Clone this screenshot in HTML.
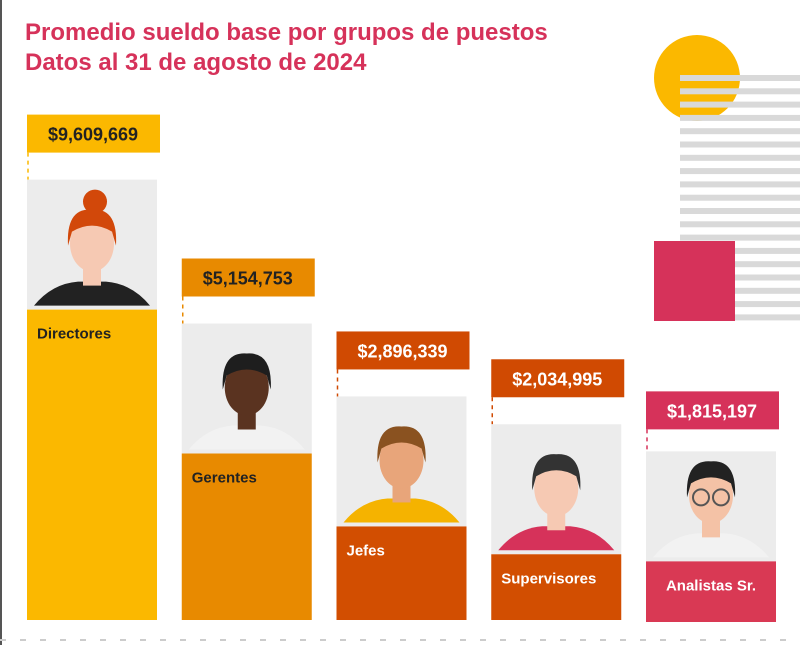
<!DOCTYPE html>
<html><head><meta charset="utf-8"><style>
body{margin:0;width:800px;height:645px;overflow:hidden;background:#fff;font-family:"Liberation Sans",sans-serif;position:relative}
#title{position:absolute;left:25px;top:18px;color:#d6325a;font-weight:bold;font-size:24px;line-height:30px}
</style></head><body>
<div style="position:absolute;left:0;top:0;width:2px;height:645px;background:#555"></div>
<div id="title">Promedio sueldo base por grupos de puestos<br>Datos al 31 de agosto de 2024</div>
<svg id="chart" width="800" height="645" style="position:absolute;left:0;top:0" xmlns="http://www.w3.org/2000/svg"></svg>
<script>
const categories=["Directores","Gerentes","Jefes","Supervisores","Analistas Sr."];
const values=[9609669,5154753,2896339,2034995,1815197];
const valueLabels=["$9,609,669","$5,154,753","$2,896,339","$2,034,995","$1,815,197"];
const barColors=["#fbb800","#e88a00","#d24e01","#d24e01","#d93954"];
const labelColors=["#fbb800","#e88a00","#d04a02","#d04a02","#d6325a"];
const hair=["#d2480a","#1e1e1e","#8a5220","#333","#222"];
const skin=["#f6c9b3","#5a3320","#e8a57a","#f6c9b3","#f4c2a6"];
const shirt=["#222","#f2f2f2","#f5b300","#d6325a","#f2f2f2"];
const NS="http://www.w3.org/2000/svg";
const svg=document.getElementById('chart');
const baseY=620, pxPerUnit=32.3/1e6;
const y=v=>baseY-v*pxPerUnit;
const x=i=>27+i*154.75;
function el(t,a,p){const e=document.createElementNS(NS,t);for(const k in a)e.setAttribute(k,a[k]);(p||svg).appendChild(e);return e;}
const deco=el('g',{});


el('circle',{cx:697,cy:78,r:43,fill:'#fbb800'},deco);
for(let s=0;s<19;s++){el('rect',{x:680,y:75+s*13.3,width:120,height:6,fill:'#d9d9d9'},deco);}
el('rect',{x:654,y:241,width:81,height:80,fill:'#d6325a'},deco);
el('line',{x1:0,y1:640,x2:800,y2:640,stroke:'#ccc','stroke-width':2,'stroke-dasharray':'6 14'},deco);
categories.forEach((c,i)=>{
  const g=el('g',{});
  
  
  const bx=x(i),w=130,top=y(values[i]),photoH=i==4?110:130,photoTop=top-photoH;
  const labTop=photoTop-(i==4?60:65);
  el('line',{x1:bx+1,y1:labTop+38,x2:bx+1,y2:photoTop,stroke:labelColors[i],'stroke-width':1.5,'stroke-dasharray':'4 4'},g);
  const lb=el('rect',{x:bx,y:labTop,width:w+3,height:38,fill:labelColors[i]},g);
  
  
  const t=el('text',{x:bx+66,y:labTop+26,'text-anchor':'middle','font-size':18,'font-weight':'bold',fill:i<2?'#222':'#fff'},g);
  t.textContent=valueLabels[i];
  
  
  el('rect',{x:bx,y:photoTop,width:w,height:photoH,fill:'#ececec'},g);
  const cx=bx+w/2,by=top-4;
  el('path',{d:`M${cx-58} ${by} Q${cx-40} ${by-22} ${cx-14} ${by-24} L${cx+14} ${by-24} Q${cx+40} ${by-22} ${cx+58} ${by} Z`,fill:shirt[i]},g);
  el('rect',{x:cx-9,y:by-42,width:18,height:22,fill:skin[i]},g);
  el('ellipse',{cx:cx,cy:by-62,rx:22,ry:28,fill:skin[i]},g);
  el('path',{d:`M${cx-24} ${by-60} Q${cx-26} ${by-98} ${cx} ${by-96} Q${cx+26} ${by-98} ${cx+24} ${by-60} L${cx+20} ${by-74} Q${cx} ${by-86} ${cx-20} ${by-74} Z`,fill:hair[i]},g);
  if(i==0) el('circle',{cx:cx+3,cy:by-104,r:12,fill:hair[i]},g);
  if(i==4){el('circle',{cx:cx-10,cy:by-60,r:8,fill:'none',stroke:'#555','stroke-width':2},g);el('circle',{cx:cx+10,cy:by-60,r:8,fill:'none',stroke:'#555','stroke-width':2},g);}
  const r=el('rect',{x:bx,y:top,width:w,height:baseY-top+(i==4?2:0),fill:barColors[i]},g);
  
  
  const ct=el('text',{x:i==4?cx:bx+10,y:top+29,'text-anchor':i==4?'middle':'start','font-size':15,'font-weight':'bold',fill:i<2?'#222':'#fff'},g);
  ct.textContent=c;
  
  
});
</script>
</body></html>
